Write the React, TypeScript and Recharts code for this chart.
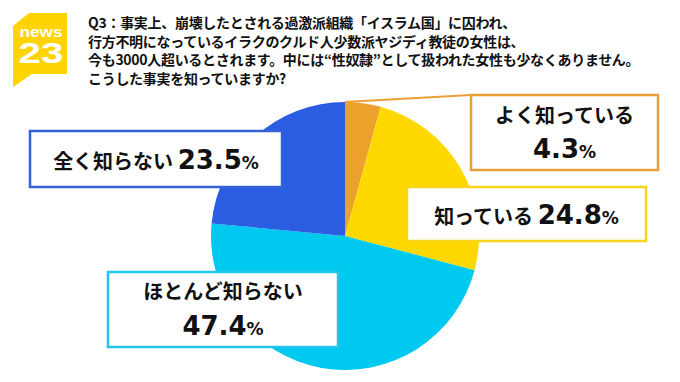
import { Pie, PieChart, Cell } from "recharts";

const answers = ["よく知っている", "知っている", "ほとんど知らない", "全く知らない"];
const shares = [4.3, 24.8, 47.4, 23.5];
const titleLines = [
  "Q3：事実上、崩壊したとされる過激派組織「イスラム国」に囚われ、",
  "行方不明になっているイラクのクルド人少数派ヤジディ教徒の女性は、",
  "今も3000人超いるとされます。中には“性奴隷”として扱われた女性も少なくありません。",
  "こうした事実を知っていますか?",
];

const data = answers.map((name, i) => ({ name, value: shares[i] }));

const sliceColors = ["#ECA12C", "#FFD800", "#00C9EF", "#2B5DE3"];
const boxColors = ["#E9A037", "#F7D51C", "#25C4EA", "#3561D6"];

// label box layout per slice
const boxes = [
  { x: 471, y: 95, w: 187, h: 75, twoLines: true, l1: 123, l2: 158 },
  { x: 407, y: 187, w: 239, h: 54, twoLines: false, l1: 224, l2: 0 },
  { x: 108, y: 272, w: 230, h: 75, twoLines: true, l1: 299, l2: 335 },
  { x: 30, y: 131, w: 252, h: 56, twoLines: false, l1: 169, l2: 0 },
];

const JP = "'Noto Sans CJK JP', sans-serif";
const NUM = "'DejaVu Sans', sans-serif";
const LOGO = "'Liberation Sans', Arial, sans-serif";

function BoxLabel(props: any) {
  const { index, cx, cy, outerRadius, startAngle } = props;
  const b = boxes[index];
  const cxBox = b.x + b.w / 2;
  const color = boxColors[index];
  const num = shares[index].toFixed(1);
  let leader = null;
  if (index === 0) {
    const rad = (startAngle * Math.PI) / 180;
    const sx = cx + outerRadius * Math.cos(rad);
    const sy = cy - outerRadius * Math.sin(rad);
    leader = <line x1={sx} y1={sy} x2={b.x} y2={b.y} stroke={color} strokeWidth={2} />;
  }
  return (
    <g>
      {leader}
      <rect x={b.x} y={b.y} width={b.w} height={b.h} fill="#fff" stroke={color} strokeWidth={2.5} />
      {b.twoLines ? (
        <>
          <text x={cxBox} y={b.l1} textAnchor="middle" fontFamily={JP} fontWeight={700} fontSize={20} fill="#111">
            {answers[index]}
          </text>
          <text x={cxBox} y={b.l2} textAnchor="middle" fontFamily={NUM} fontWeight={700} fill="#111">
            <tspan fontSize={26}>{num}</tspan>
            <tspan fontSize={17}>%</tspan>
          </text>
        </>
      ) : (
        <text x={cxBox} y={b.l1} textAnchor="middle" fill="#111" fontWeight={700}>
          <tspan fontFamily={JP} fontSize={20}>{answers[index] + " "}</tspan>
          <tspan fontFamily={NUM} fontSize={26}>{num}</tspan>
          <tspan fontFamily={NUM} fontSize={17}>%</tspan>
        </text>
      )}
    </g>
  );
}

export default function App() {
  return (
    <div style={{ position: "fixed", left: 0, top: 0, width: 680, height: 382, background: "#fff", overflow: "hidden" }}>
      <PieChart width={680} height={382}>
        <Pie
          data={data}
          dataKey="value"
          nameKey="name"
          cx={340}
          cy={231}
          outerRadius={134}
          startAngle={90}
          endAngle={-270}
          stroke="none"
          label={BoxLabel}
          labelLine={false}
          isAnimationActive={false}
        >
          {data.map((d, i) => (
            <Cell key={d.name} fill={sliceColors[i]} />
          ))}
        </Pie>
      </PieChart>
      <svg width={80} height={100} style={{ position: "absolute", left: 0, top: 0 }}>
        <path d="M13,26 L29,13 L67,13 L67,74 L32,74 L13,87 Z" fill="#FFD400" />
        <text x={41} y={37} textAnchor="middle" fontFamily={LOGO} fontWeight={700} fontSize={15} fill="#fff" textLength={43} lengthAdjust="spacingAndGlyphs">
          news
        </text>
        <text x={41} y={63} textAnchor="middle" fontFamily={LOGO} fontWeight={700} fontSize={29} fill="#fff" textLength={45} lengthAdjust="spacingAndGlyphs">
          23
        </text>
      </svg>
      <div style={{ position: "absolute", left: 88, top: 13, fontFamily: JP, fontWeight: 700, fontSize: 14, lineHeight: "18.7px", color: "#111", letterSpacing: -0.3, whiteSpace: "nowrap" }}>
        {titleLines.map((t) => (
          <div key={t}>{t}</div>
        ))}
      </div>
    </div>
  );
}
